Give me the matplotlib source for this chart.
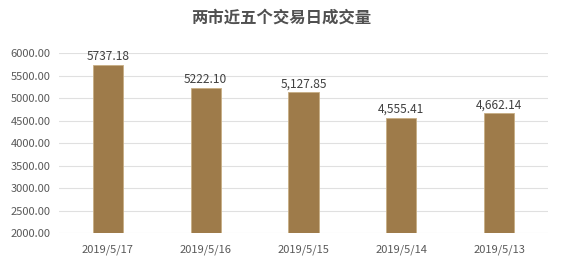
import matplotlib
matplotlib.use('Agg')
import matplotlib.pyplot as plt

dates = ['2019/5/17', '2019/5/16', '2019/5/15', '2019/5/14', '2019/5/13']
volumes = [5737.18, 5222.10, 5127.85, 4555.41, 4662.14]
value_labels = ['5737.18', '5222.10', '5,127.85', '4,555.41', '4,662.14']
yticks = [2000, 2500, 3000, 3500, 4000, 4500, 5000, 5500, 6000]

plt.rcParams['font.family'] = ['Noto Sans CJK SC', 'DejaVu Sans']
plt.rcParams['axes.unicode_minus'] = False

fig = plt.figure(figsize=(5.63, 2.64), dpi=100)
ax = fig.add_axes([0.1048, 0.1174, 0.8686, 0.6816])

x = range(len(dates))
ax.bar(x, volumes, width=0.31, color='#9E7B4A', edgecolor='#C8AE84', linewidth=0.6, zorder=3)
for a, b, s in zip(x, volumes, value_labels):
    ax.text(a, b + 45, s, ha='center', va='bottom', fontsize=8.6, color='#404040')

ax.set_xlim(-0.5, len(dates) - 0.5)
ax.set_ylim(2000, 6000)
ax.set_yticks(yticks)
ax.set_yticklabels(['%.2f' % v for v in yticks])
ax.set_xticks(list(x))
ax.set_xticklabels(dates)
ax.grid(axis='y', color='#E0E0E0', linewidth=0.8, zorder=0)
for s in ax.spines.values():
    s.set_visible(False)
ax.tick_params(length=0, labelsize=8, colors='#595959')
ax.tick_params(axis='x', pad=8)
ax.tick_params(axis='y', pad=6)

fig.text(0.5, 0.935, '两市近五个交易日成交量', ha='center', va='center',
         fontsize=11.8, fontweight='bold', color='#505050')

fig.savefig('out.png', dpi=100)
